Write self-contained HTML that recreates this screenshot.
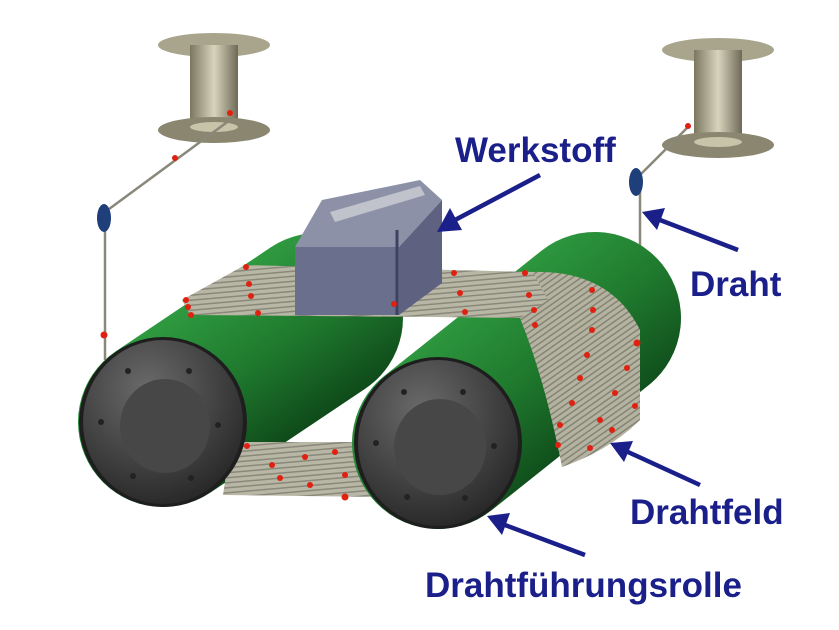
<!DOCTYPE html>
<html><head><meta charset="utf-8"><style>
html,body{margin:0;padding:0;background:#fff;width:839px;height:630px;overflow:hidden}
text{font-family:"Liberation Sans",sans-serif;font-weight:bold;fill:#1a1f8a;font-size:35px}
</style></head><body>
<svg width="839" height="630" viewBox="0 0 839 630" xmlns="http://www.w3.org/2000/svg">
<defs>
<linearGradient id="g1" x1="0" y1="0" x2="1" y2="1"><stop offset="0" stop-color="#2f9a40"/><stop offset="0.5" stop-color="#1f7a2e"/><stop offset="1" stop-color="#0f4a1a"/></linearGradient>
<radialGradient id="cap" cx="0.4" cy="0.3" r="0.75"><stop offset="0" stop-color="#6a6a6a"/><stop offset="1" stop-color="#262626"/></radialGradient>
<linearGradient id="sp" x1="0" y1="0" x2="1" y2="0"><stop offset="0" stop-color="#7a7660"/><stop offset="0.5" stop-color="#d8d4bc"/><stop offset="1" stop-color="#6e6a58"/></linearGradient>
<pattern id="wire" width="5" height="5" patternUnits="userSpaceOnUse" patternTransform="rotate(-5)"><rect width="5" height="5" fill="#b8b6a4"/><rect width="5" height="1.5" fill="#8a887a"/></pattern>
<pattern id="wire2" width="5" height="5" patternUnits="userSpaceOnUse" patternTransform="rotate(55)"><rect width="5" height="5" fill="#b4b2a0"/><rect width="1.5" height="5" fill="#858372"/></pattern>
</defs>
<g>
<ellipse cx="214" cy="45" rx="56" ry="12" fill="#a9a58c"/>
<rect x="190" y="45" width="48" height="82" fill="url(#sp)"/>
<ellipse cx="214" cy="130" rx="56" ry="13" fill="#8a8670"/>
<ellipse cx="214" cy="127" rx="24" ry="5" fill="#c8c4aa"/>
<ellipse cx="718" cy="50" rx="56" ry="12" fill="#a9a58c"/>
<rect x="694" y="50" width="48" height="92" fill="url(#sp)"/>
<ellipse cx="718" cy="145" rx="56" ry="13" fill="#8a8670"/>
<ellipse cx="718" cy="142" rx="24" ry="5" fill="#c8c4aa"/>
</g>
<path d="M230 120 L105 212 L105 360" stroke="#8a8878" stroke-width="2.5" fill="none"/>
<path d="M690 125 L640 175 L640 340" stroke="#8a8878" stroke-width="2.5" fill="none"/>
<ellipse cx="104" cy="218" rx="7" ry="14" fill="#1f3f7a"/>
<ellipse cx="636" cy="182" rx="7" ry="14" fill="#1f3f7a"/>
<line x1="163" y1="422" x2="318" y2="318" stroke="url(#g1)" stroke-width="170" stroke-linecap="round"/>
<polygon points="231,442 354,442 378,497 223,495" fill="url(#wire)"/>
<line x1="438" y1="443" x2="595" y2="318" stroke="url(#g1)" stroke-width="172" stroke-linecap="round"/>
<path d="M533 272 Q610 270 640 330 L640 420 Q610 450 562 467 Q545 380 520 318 Z" fill="url(#wire2)"/>
<polygon points="182,300 245,265 533,272 548,300 520,318 435,317 190,315" fill="url(#wire)"/>
<ellipse cx="163" cy="422" rx="84" ry="85" fill="#1e1e1e"/>
<ellipse cx="163" cy="422" rx="80" ry="82" fill="url(#cap)"/>
<ellipse cx="165" cy="426" rx="45" ry="47" fill="#474747"/>
<ellipse cx="438" cy="443" rx="84" ry="86" fill="#1e1e1e"/>
<ellipse cx="438" cy="443" rx="80" ry="83" fill="url(#cap)"/>
<ellipse cx="440" cy="447" rx="46" ry="48" fill="#474747"/>
<g fill="#222"><circle cx="128" cy="371" r="3"/><circle cx="189" cy="371" r="3"/><circle cx="101" cy="422" r="3"/><circle cx="218" cy="425" r="3"/><circle cx="133" cy="476" r="3"/><circle cx="191" cy="478" r="3"/>
<circle cx="404" cy="392" r="3"/><circle cx="463" cy="392" r="3"/><circle cx="376" cy="443" r="3"/><circle cx="494" cy="446" r="3"/><circle cx="407" cy="497" r="3"/><circle cx="465" cy="498" r="3"/></g>
<polygon points="295,247 322,200 420,180 442,200 399,247" fill="#8d91a8"/>
<polygon points="330,212 420,186 425,195 335,222" fill="#c0c2cc"/>
<polygon points="399,247 442,200 442,283 399,315" fill="#5e6280"/>
<rect x="295" y="247" width="104" height="68" fill="#6b6f8e"/>
<line x1="397" y1="230" x2="397" y2="315" stroke="#3e4260" stroke-width="3"/>
<g fill="#e02010">
<circle cx="230" cy="113" r="3"/><circle cx="175" cy="158" r="3"/><circle cx="104" cy="335" r="3.5"/>
<circle cx="688" cy="126" r="3"/><circle cx="186" cy="300" r="3"/><circle cx="188" cy="307" r="3"/><circle cx="191" cy="315" r="3"/>
<circle cx="246" cy="267" r="3"/><circle cx="249" cy="284" r="3"/><circle cx="251" cy="296" r="3"/><circle cx="258" cy="313" r="3"/>
<circle cx="394" cy="304" r="3"/><circle cx="454" cy="273" r="3"/><circle cx="460" cy="293" r="3"/><circle cx="465" cy="312" r="3"/>
<circle cx="525" cy="273" r="3"/><circle cx="529" cy="295" r="3"/><circle cx="534" cy="310" r="3"/><circle cx="535" cy="325" r="3"/>
<circle cx="592" cy="290" r="3"/><circle cx="593" cy="310" r="3"/><circle cx="592" cy="330" r="3"/><circle cx="587" cy="355" r="3"/>
<circle cx="580" cy="378" r="3"/><circle cx="572" cy="403" r="3"/><circle cx="560" cy="425" r="3"/><circle cx="558" cy="445" r="3"/>
<circle cx="637" cy="343" r="3.5"/><circle cx="627" cy="368" r="3"/><circle cx="615" cy="393" r="3"/><circle cx="600" cy="420" r="3"/>
<circle cx="635" cy="406" r="3"/><circle cx="612" cy="430" r="3"/><circle cx="590" cy="448" r="3"/>
<circle cx="247" cy="446" r="3"/><circle cx="272" cy="465" r="3"/><circle cx="305" cy="457" r="3"/><circle cx="335" cy="452" r="3"/>
<circle cx="280" cy="478" r="3"/><circle cx="310" cy="485" r="3"/><circle cx="345" cy="475" r="3"/><circle cx="345" cy="497" r="3.5"/>
</g>
<g stroke="#1a1f8a" stroke-width="4.5" fill="#1a1f8a">
<line x1="540" y1="175" x2="455" y2="220"/><polygon points="437,232 450,208 462,230" stroke="none"/>
<line x1="738" y1="250" x2="660" y2="220"/><polygon points="642,212 665,208 657,230" stroke="none"/>
<line x1="700" y1="485" x2="628" y2="452"/><polygon points="610,443 633,441 624,462" stroke="none"/>
<line x1="585" y1="555" x2="505" y2="525"/><polygon points="487,516 510,513 502,535" stroke="none"/>
</g>
<text x="455" y="162">Werkstoff</text>
<text x="690" y="296">Draht</text>
<text x="630" y="524">Drahtfeld</text>
<text x="425" y="597">Drahtführungsrolle</text>
</svg>
</body></html>
